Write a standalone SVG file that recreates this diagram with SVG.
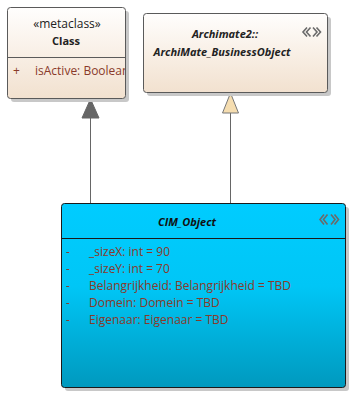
<svg xmlns="http://www.w3.org/2000/svg" width="358" height="401" viewBox="0 0 358 401">
<defs>
<linearGradient id="beige" x1="0" y1="0" x2="0" y2="1">
<stop offset="0" stop-color="#FFFEFD"/>
<stop offset="1" stop-color="#F2E1CF"/>
</linearGradient>
<linearGradient id="cyan" x1="0" y1="0" x2="0" y2="1">
<stop offset="0" stop-color="#00CCFF"/>
<stop offset="0.45" stop-color="#00C6F6"/>
<stop offset="1" stop-color="#0099BE"/>
</linearGradient>
<clipPath id="clipClass"><rect x="8" y="8" width="117" height="90"/></clipPath>
<style>
.shadow{fill:#C8C8C8}
.box{stroke:#5A5A5A;stroke-width:1}
.cbox{stroke:#1A1A1A;stroke-width:1}
.t{font-family:"Open Sans","Noto Sans",sans-serif;font-size:12px}
.title{font-weight:bold;font-size:11px}
.ital{font-style:italic}
.attr{fill:#8A3A2A}
.conn{stroke:#666;stroke-width:1;fill:none}
.icon{stroke:#6A6A6A;stroke-width:1.6;fill:none}
</style>
</defs>
<g id="connectors">
<line class="conn" x1="90.5" y1="118" x2="90.5" y2="203"/>
<polygon points="90.5,99 82,118 99,118" fill="#666" stroke="#666"/>
<line class="conn" x1="230.5" y1="113" x2="230.5" y2="203"/>
<polygon points="230.5,93 222.5,113 238.5,113" fill="#F5DDB0" stroke="#777"/>
</g>
<g id="node-class">
<rect class="shadow" x="11" y="11" width="118" height="91" rx="3"/>
<rect class="box" x="7.5" y="7.5" width="118" height="91" rx="3" fill="url(#beige)"/>
<line class="box" x1="7.5" y1="57.5" x2="125.5" y2="57.5"/>
<text class="t" x="67" y="28" text-anchor="middle" fill="#222">«metaclass»</text>
<text class="t title" x="66" y="45" text-anchor="middle" fill="#222">Class</text>
<g clip-path="url(#clipClass)">
<text class="t attr" x="13" y="75">+</text>
<text class="t attr" x="35" y="75">isActive: Boolean</text>
</g>
</g>
<g id="node-businessobject">
<rect class="shadow" x="147" y="17" width="184" height="79" rx="3"/>
<rect class="box" x="143.5" y="13.5" width="184" height="79" rx="3" fill="url(#beige)"/>
<text class="t title ital" x="225" y="38" text-anchor="middle" fill="#222">Archimate2::</text>
<text class="t title ital" x="222" y="56" text-anchor="middle" fill="#222">ArchiMate_BusinessObject</text>
<polyline class="icon" points="307,27.5 303,32 307,36.5"/>
<polyline class="icon" points="310.5,27.5 306.5,32 310.5,36.5"/>
<polyline class="icon" points="313,27.5 317,32 313,36.5"/>
<polyline class="icon" points="316.5,27.5 320.5,32 316.5,36.5"/>
</g>
<g id="node-cim">
<rect class="shadow" x="65" y="207" width="284" height="184" rx="3"/>
<rect class="cbox" x="61.5" y="203.5" width="284" height="184" rx="3" fill="url(#cyan)"/>
<line class="cbox" x1="61.5" y1="238.5" x2="345.5" y2="238.5"/>
<text class="t title ital" x="187" y="226" text-anchor="middle" fill="#111">CIM_Object</text>
<polyline class="icon" points="324,214.5 320,219.5 324,224.5"/>
<polyline class="icon" points="327.5,214.5 323.5,219.5 327.5,224.5"/>
<polyline class="icon" points="331,214.5 335,219.5 331,224.5"/>
<polyline class="icon" points="334.5,214.5 338.5,219.5 334.5,224.5"/>
<text class="t attr" x="66" y="256">-</text>
<text class="t attr" x="89" y="256">_sizeX: int = 90</text>
<text class="t attr" x="66" y="273">-</text>
<text class="t attr" x="89" y="273">_sizeY: int = 70</text>
<text class="t attr" x="66" y="290">-</text>
<text class="t attr" x="89" y="290">Belangrijkheid: Belangrijkheid = TBD</text>
<text class="t attr" x="66" y="307">-</text>
<text class="t attr" x="89" y="307">Domein: Domein = TBD</text>
<text class="t attr" x="66" y="324">-</text>
<text class="t attr" x="89" y="324">Eigenaar: Eigenaar = TBD</text>
</g>
</svg>
